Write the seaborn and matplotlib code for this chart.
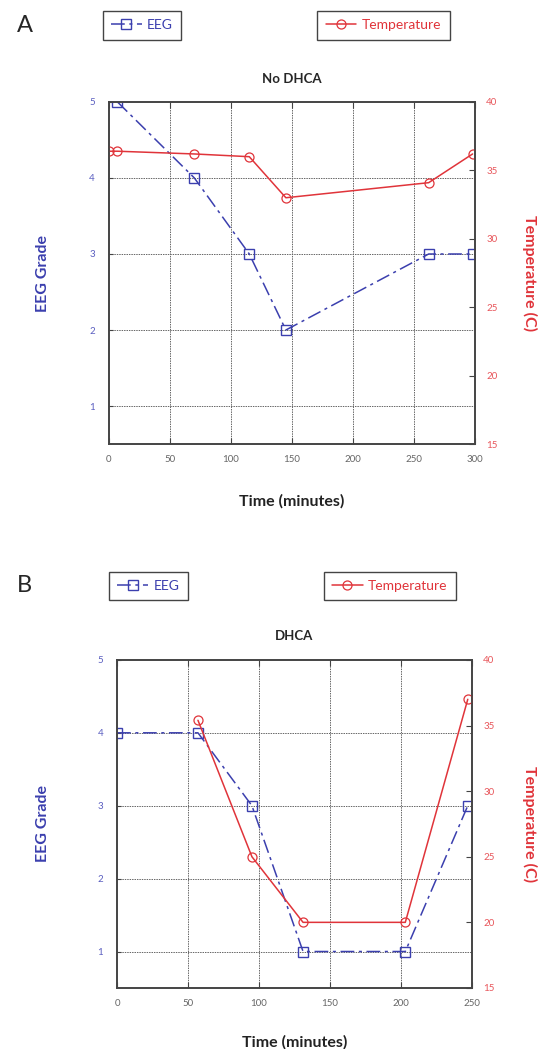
import numpy as np
import pandas as pd
import matplotlib
matplotlib.use("Agg")
import matplotlib.pyplot as plt
import seaborn as sns

# data
# panel A - No DHCA
a_eeg_time = [7, 70, 115, 145, 262, 298]
a_eeg_grade = [5, 4, 3, 2, 3, 3]
a_temp_time = [0, 7, 70, 115, 145, 262, 298]
a_temp_c = [36.4, 36.4, 36.2, 36.0, 33.0, 34.1, 36.2]

# panel B - DHCA
b_eeg_time = [0, 57, 95, 131, 203, 247]
b_eeg_grade = [4, 4, 3, 1, 1, 3]
b_temp_time = [57, 95, 131, 203, 247]
b_temp_c = [35.4, 25.0, 20.0, 20.0, 37.0]

eeg_ticks = [1, 2, 3, 4, 5]
temp_ticks = [15, 20, 25, 30, 35, 40]

sns.set_style("white")
plt.rcParams['font.family'] = ['Lato', 'DejaVu Sans']

BLUE = '#3b3fae'
RED = '#e0343a'
GRID = '#666666'

fig = plt.figure(figsize=(5.53, 10.49), dpi=100)


def draw_panel(rect, eeg_t, eeg_g, temp_t, temp_c, xmax, xstep, title, letter, leg_y, leg_x):
    ax = fig.add_axes(rect)
    ax2 = ax.twinx()

    eeg_line = sns.lineplot(x=eeg_t, y=eeg_g, ax=ax, color=BLUE, linewidth=1.1,
                            linestyle=(0, (9, 3, 2, 3)), marker='s', markersize=6.5,
                            markerfacecolor='none', markeredgecolor=BLUE,
                            markeredgewidth=1.0, legend=False).lines[-1]
    temp_line = sns.lineplot(x=temp_t, y=temp_c, ax=ax2, color=RED, linewidth=1.1,
                             marker='o', markersize=6.5, markerfacecolor='none',
                             markeredgecolor=RED, markeredgewidth=0.9,
                             legend=False).lines[-1]

    ax.set_xlim(0, xmax)
    ax.set_ylim(0.5, 5)
    ax2.set_ylim(15, 40)
    ax.set_xticks(np.arange(0, xmax + 1, xstep))
    ax.set_yticks(eeg_ticks)
    ax2.set_yticks(temp_ticks)

    for x in np.arange(xstep, xmax, xstep):
        ax.axvline(x, color=GRID, lw=0.7, ls=(0, (1.5, 1)), zorder=0)
    for y in eeg_ticks[:-1]:
        ax.axhline(y, color=GRID, lw=0.7, ls=(0, (1.5, 1)), zorder=0)

    ax.tick_params(axis='x', direction='in', top=True, bottom=True, length=4,
                   labelsize=7, labelcolor='#666666', color='#444444', pad=8)
    ax.tick_params(axis='y', direction='in', length=3, labelsize=7,
                   labelcolor='#5a5ec0', color='#444444', pad=10)
    ax2.tick_params(axis='y', direction='in', length=4, labelsize=7,
                    labelcolor='#e8555a', color='#444444', pad=8)

    for a in (ax, ax2):
        for s in a.spines.values():
            s.set_color('#444444')
            s.set_linewidth(1.2)

    ax.set_xlabel('Time (minutes)', fontsize=11.5, fontweight='bold', color='#222222')
    ax.xaxis.set_label_coords(0.5, -0.145)
    ax.set_ylabel('EEG Grade', fontsize=11.5, fontweight='bold', color=BLUE)
    ax.yaxis.set_label_coords(leg_x[0], 0.5)
    ax2.set_ylabel('Temperature (C)', fontsize=11.5, fontweight='bold', color=RED,
                   rotation=270)
    ax2.yaxis.set_label_coords(leg_x[1], 0.5)
    ax.set_title(title, fontsize=9.5, fontweight='bold', pad=14)

    fig.text(0.045, leg_y, letter, fontsize=17, ha='center', va='center')

    for line, label, color, cx in ((eeg_line, 'EEG', BLUE, leg_x[2]),
                                   (temp_line, 'Temperature', RED, leg_x[3])):
        leg = fig.legend([line], [label], loc='center', bbox_to_anchor=(cx, leg_y),
                         fontsize=10, handlelength=2.2, handletextpad=0.4,
                         fancybox=False, edgecolor='#444444', framealpha=1,
                         borderpad=0.6, borderaxespad=0)
        leg.get_frame().set_linewidth(1.0)
        for t in leg.get_texts():
            t.set_color(color)
    return ax


draw_panel([0.197, 0.5767, 0.662, 0.3261], a_eeg_time, a_eeg_grade, a_temp_time,
           a_temp_c, 300, 50, 'No DHCA', 'A', 0.976,
           (-0.16, 1.17, 0.257, 0.6935))
draw_panel([0.2116, 0.0582, 0.642, 0.3127], b_eeg_time, b_eeg_grade, b_temp_time,
           b_temp_c, 250, 50, 'DHCA', 'B', 0.4414,
           (-0.19, 1.183, 0.2685, 0.705))

fig.savefig('out.png', dpi=100)
